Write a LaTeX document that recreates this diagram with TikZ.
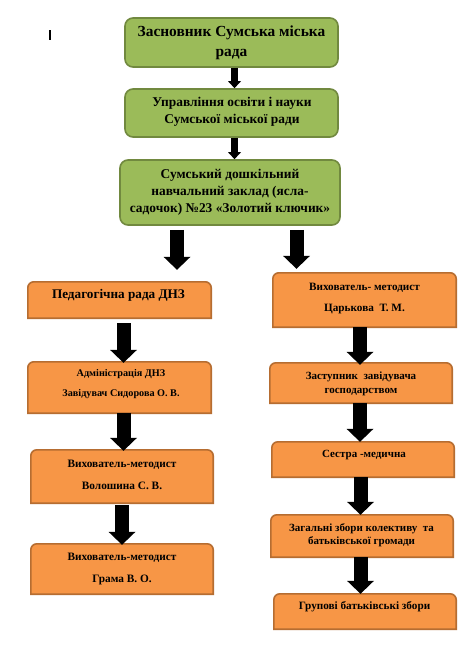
\documentclass[tikz,border=0pt]{standalone}
\usepackage{fontspec}
\setmainfont{Liberation Serif}
\usetikzlibrary{arrows.meta}
\definecolor{gfill}{HTML}{9BBB59}
\definecolor{gline}{HTML}{71893F}
\definecolor{ofill}{HTML}{F79646}
\definecolor{oline}{HTML}{B66D31}
\tikzset{
  gbox/.style={draw=gline, fill=gfill, line width=1.6pt, rounded corners=8pt, inner sep=0pt},
  oanchor/.style={draw=none, inner sep=0pt},
  obox/.style={draw=oline, fill=ofill, line width=1.6pt, line join=miter},
  txt/.style={align=center, inner sep=0pt, font=\bfseries},
  blk/.style={line width=#1, draw=black, -{Triangle[width=27pt,length=13pt,line width=0pt]}},
  blk/.default=14pt,
  smallblk/.style={line width=7pt, draw=black, -{Triangle[width=13pt,length=7pt,line width=0pt]}}
}
\newcommand\topround[1]{%
  \draw[obox] (#1.south west) -- ([yshift=-6pt]#1.north west)
    arc[start angle=180,end angle=90,radius=6pt]
    -- ([xshift=-6pt]#1.north east)
    arc[start angle=90,end angle=0,radius=6pt]
    -- (#1.south east) -- cycle;}
\begin{document}
\begin{tikzpicture}[x=1pt,y=1pt]
\useasboundingbox (0,0) rectangle (470,-663);
\fill[white] (0,0) rectangle (470,-663);
% cursor mark
\fill[black] (49,-30) rectangle (51,-40);

% green boxes
\node[gbox, minimum width=213pt, minimum height=49pt] (g1) at (231.5,-42.5) {};
\node[gbox, minimum width=213pt, minimum height=48pt] (g2) at (231.5,-113) {};
\node[gbox, minimum width=220pt, minimum height=65pt] (g3) at (230,-192.5) {};

\node[txt, font=\bfseries\fontsize{15.4}{20}\selectfont] (g1t) at (231.5,-43) {Засновник Сумська міська\\рада};
\node[txt, font=\bfseries\fontsize{13.4}{17}\selectfont] (g2t) at (232,-111.5) {Управління освіти і науки\\Сумської міської ради};
\node[txt, font=\bfseries\fontsize{13.4}{17}\selectfont] (g3t) at (230,-192) {Сумський дошкільний\\навчальний заклад (ясла-\\садочок) №23 «Золотий ключик»};

% orange boxes (left)
\node[oanchor, minimum width=183pt, minimum height=36pt] (l1) at (119.5,-300) {};
\node[oanchor, minimum width=183pt, minimum height=51pt] (l2) at (119.5,-387.5) {};
\node[oanchor, minimum width=182pt, minimum height=53pt] (l3) at (122,-476.5) {};
\node[oanchor, minimum width=182pt, minimum height=50pt] (l4) at (122,-569) {};
% orange boxes (right)
\node[oanchor, minimum width=183pt, minimum height=54pt] (r1) at (364.5,-300) {};
\node[oanchor, minimum width=182pt, minimum height=40pt] (r2) at (361,-383) {};
\node[oanchor, minimum width=182pt, minimum height=35pt] (r3) at (363,-459.5) {};
\node[oanchor, minimum width=182pt, minimum height=42pt] (r4) at (362,-536) {};
\node[oanchor, minimum width=182pt, minimum height=35pt] (r5) at (365,-611.5) {};
\foreach \b in {l1,l2,l3,l4,r1,r2,r3,r4,r5} {\topround{\b}}

\node[txt, font=\bfseries\fontsize{13.2}{14}\selectfont] (l1t) at (118.5,-295) {Педагогічна рада ДНЗ};
\node[txt, font=\bfseries\fontsize{10.2}{20}\selectfont] (l2t) at (121,-384) {Адміністрація ДНЗ\\Завідувач Сидорова О. В.};
\node[txt, font=\bfseries\fontsize{11.3}{22}\selectfont] (l3t) at (122,-475) {Вихователь-методист\\Волошина  С. В.};
\node[txt, font=\bfseries\fontsize{11.3}{22}\selectfont] (l4t) at (122,-569) {Вихователь-методист\\Грама В. О.};

\node[txt, font=\bfseries\fontsize{11.2}{21}\selectfont] (r1t) at (364.5,-298.5) {Вихователь- методист\\Царькова~~Т. М.};
\node[txt, font=\bfseries\fontsize{11}{14}\selectfont] (r2t) at (361,-384) {Заступник~~завідувача\\господарством};
\node[txt, font=\bfseries\fontsize{11}{12}\selectfont] (r3t) at (364,-455) {Сестра -медична};
\node[txt, font=\bfseries\fontsize{11}{13}\selectfont] (r4t) at (361.5,-535.5) {Загальні збори колективу~~та\\батьківської громади};
\node[txt, font=\bfseries\fontsize{11.2}{12}\selectfont] (r5t) at (364.5,-607) {Групові батьківські збори};

% arrows
\draw[smallblk] ([xshift=3pt]g1.south) -- ([xshift=3pt]g2.north);
\draw[smallblk] ([xshift=3pt]g2.south) -- ([xshift=4.5pt]g3.north);
\draw[blk] ([shift={(-53,-4)}]g3.south) -- ([shift={(57.5,12)}]l1.north);
\draw[blk] ([shift={(66.5,-4)}]g3.south) -- ([shift={(-68,4)}]r1.north);

\draw[blk] ([shift={(4,-5)}]l1.south) -- ([shift={(4,-1)}]l2.north);
\draw[blk] ([shift={(4,0)}]l2.south) -- ([shift={(1.5,-1)}]l3.north);
\draw[blk] ([shift={(0,-2)}]l3.south) -- ([shift={(0,-1)}]l4.north);

\draw[blk] ([shift={(-4.5,0)}]r1.south) -- ([shift={(-1,-2)}]r2.north);
\draw[blk] ([shift={(-1,0)}]r2.south) -- ([shift={(-3,0)}]r3.north);
\draw[blk] ([shift={(-2.5,0)}]r3.south) -- ([shift={(-1.5,0)}]r4.north);
\draw[blk] ([shift={(-1.5,0)}]r4.south) -- ([shift={(-4.5,0)}]r5.north);
\end{tikzpicture}
\end{document}
